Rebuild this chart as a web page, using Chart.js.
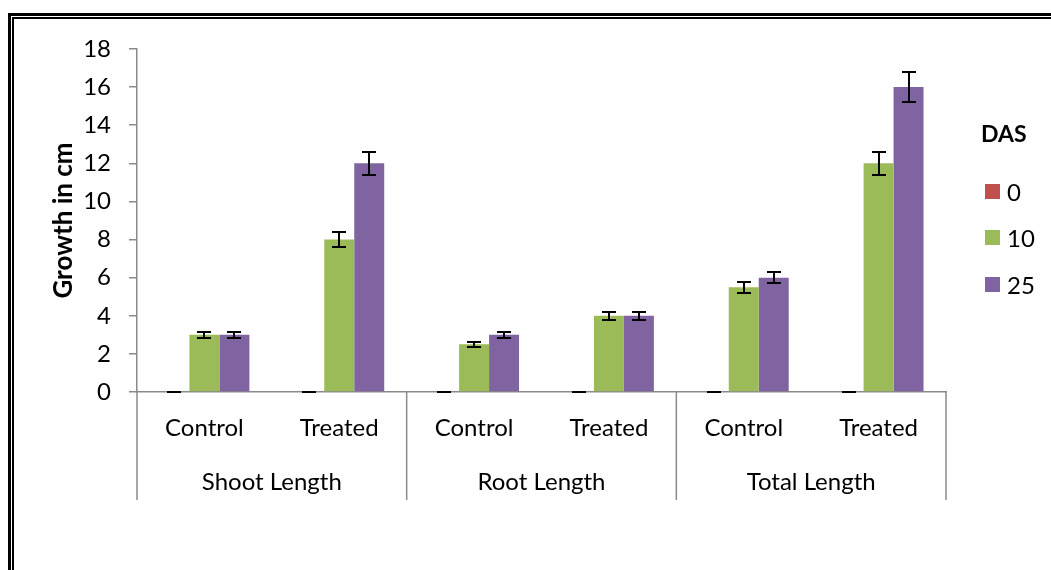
<!DOCTYPE html>
<html>
<head>
<meta charset="utf-8">
<script src="https://cdn.jsdelivr.net/npm/chart.js@4.4.1/dist/chart.umd.min.js"></script>
<style>
  html, body { margin: 0; padding: 0; background: #fff; }
  #wrap { position: relative; width: 1051px; height: 570px; overflow: hidden; background: #fff; }
  #chart { position: absolute; left: 0; top: 0; }
  .frame-outer { position: absolute; left: 8px; top: 13px; width: 3000px; height: 3000px; border-left: 3px solid #000; border-top: 3px solid #000; }
  .frame-inner { position: absolute; left: 12px; top: 17px; width: 3000px; height: 3000px; border-left: 2px solid #000; border-top: 2px solid #000; }
  #legend { position: absolute; left: 0; top: 0; font-family: Lato, sans-serif; color: #000; }
  #legend .title { position: absolute; left: 981px; top: 119px; font-size: 23px; font-weight: bold; line-height: 28px; white-space: nowrap; }
  #legend .item { position: absolute; left: 985px; height: 28px; white-space: nowrap; }
  #legend .box { position: absolute; left: 0; top: 6px; width: 15px; height: 15px; }
  #legend .lab { position: absolute; left: 22px; top: 0; font-size: 24px; line-height: 28px; }
</style>
</head>
<body>
<div id="wrap">
  <div class="frame-outer"></div>
  <div class="frame-inner"></div>
  <canvas id="chart" width="1051" height="570"></canvas>
  <div id="legend"></div>
</div>
<script>
// ---- data ----
const categories = ['Control', 'Treated', 'Control', 'Treated', 'Control', 'Treated'];
const groups = ['Shoot Length', 'Root Length', 'Total Length'];
const seriesLabels = ['0', '10', '25'];
const das0 = [0, 0, 0, 0, 0, 0];
const das10 = [3, 8, 2.5, 4, 5.5, 12];
const das25 = [3, 12, 3, 4, 6, 16];
const err0 = [0, 0, 0, 0, 0, 0];
const err10 = [0.15, 0.4, 0.13, 0.2, 0.28, 0.6];
const err25 = [0.15, 0.6, 0.15, 0.2, 0.3, 0.8];
const yTicks = [0, 2, 4, 6, 8, 10, 12, 14, 16, 18];
const legendTitle = 'DAS';
const yTitle = 'Growth in cm';

// ---- styles ----
const colors = ['#C0504D', '#9BBB59', '#8064A2'];
const axisColor = '#8a8a8a';
const FONT = 'Lato';

const errorBarPlugin = {
  id: 'errorBars',
  afterDatasetsDraw(chart) {
    const ctx = chart.ctx;
    const y = chart.scales.y;
    ctx.save();
    ctx.strokeStyle = '#000';
    ctx.lineWidth = 2;
    chart.data.datasets.forEach((ds, di) => {
      const meta = chart.getDatasetMeta(di);
      meta.data.forEach((bar, i) => {
        const v = ds.data[i], e = ds.errors[i];
        const yt = Math.round(y.getPixelForValue(v + e));
        const yb = Math.round(y.getPixelForValue(v - e));
        const x = Math.round(bar.x);
        ctx.beginPath();
        ctx.moveTo(x, yt); ctx.lineTo(x, yb);
        ctx.moveTo(x - 7, yt); ctx.lineTo(x + 7, yt);
        ctx.moveTo(x - 7, yb); ctx.lineTo(x + 7, yb);
        ctx.stroke();
      });
    });
    ctx.restore();
  }
};

const dividerPlugin = {
  id: 'dividers',
  afterDraw(chart) {
    const ctx = chart.ctx;
    const x = chart.scales.x;
    const x2 = chart.scales.x2;
    const per = categories.length / groups.length;
    ctx.save();
    ctx.strokeStyle = axisColor;
    ctx.lineWidth = 1.5;
    for (let g = 0; g <= groups.length; g++) {
      const px = x.getPixelForValue(g * per - 0.5);
      ctx.beginPath();
      ctx.moveTo(px, x.top);
      ctx.lineTo(px, x2.bottom);
      ctx.stroke();
    }
    ctx.restore();
  }
};

const datasets = [das0, das10, das25].map((d, i) => ({
  label: seriesLabels[i],
  data: d,
  errors: [err0, err10, err25][i],
  backgroundColor: colors[i],
  borderWidth: 0,
  categoryPercentage: 0.667,
  barPercentage: 1.0,
  xAxisID: 'x'
}));

new Chart(document.getElementById('chart'), {
  type: 'bar',
  data: { labels: categories, datasets },
  plugins: [errorBarPlugin, dividerPlugin],
  options: {
    responsive: false,
    animation: false,
    devicePixelRatio: 1,
    layout: { padding: { left: 48, top: 49, right: 105, bottom: 70 } },
    plugins: { legend: { display: false }, tooltip: { enabled: false } },
    scales: {
      x: {
        type: 'category',
        position: 'bottom',
        grid: { display: false, drawTicks: false },
        border: { display: true, color: axisColor, width: 1.5 },
        ticks: { color: '#000', font: { family: FONT, size: 24 }, padding: 22, maxRotation: 0, autoSkip: false },
        afterFit(s) { s.height = 50; }
      },
      x2: {
        type: 'category',
        position: 'bottom',
        labels: groups,
        offset: true,
        grid: { display: false, drawTicks: false },
        border: { display: false },
        ticks: { color: '#000', font: { family: FONT, size: 24 }, padding: 26, maxRotation: 0, autoSkip: false },
        afterFit(s) { s.height = 58; }
      },
      y: {
        min: 0,
        max: 18,
        afterBuildTicks(s) { s.ticks = yTicks.map(v => ({ value: v })); },
        afterFit(s) { s.width = 89; },
        grid: { display: true, drawOnChartArea: false, drawTicks: true, tickLength: 8, color: axisColor, lineWidth: 1.5 },
        border: { display: true, color: axisColor, width: 1.5 },
        ticks: { color: '#000', font: { family: FONT, size: 24 }, padding: 18 },
        title: { display: true, text: yTitle, color: '#000', font: { family: FONT, size: 26, weight: 'bold' }, padding: { top: 0, bottom: 8 } }
      }
    }
  }
});

// legend (built from the series arrays)
const leg = document.getElementById('legend');
const t = document.createElement('div');
t.className = 'title';
t.textContent = legendTitle;
leg.appendChild(t);
const itemTops = [178, 224, 271];
seriesLabels.forEach((lab, i) => {
  const it = document.createElement('div');
  it.className = 'item';
  it.style.top = itemTops[i] + 'px';
  const b = document.createElement('div');
  b.className = 'box';
  b.style.background = colors[i];
  const s = document.createElement('div');
  s.className = 'lab';
  s.textContent = lab;
  it.appendChild(b); it.appendChild(s);
  leg.appendChild(it);
});
</script>
</body>
</html>
